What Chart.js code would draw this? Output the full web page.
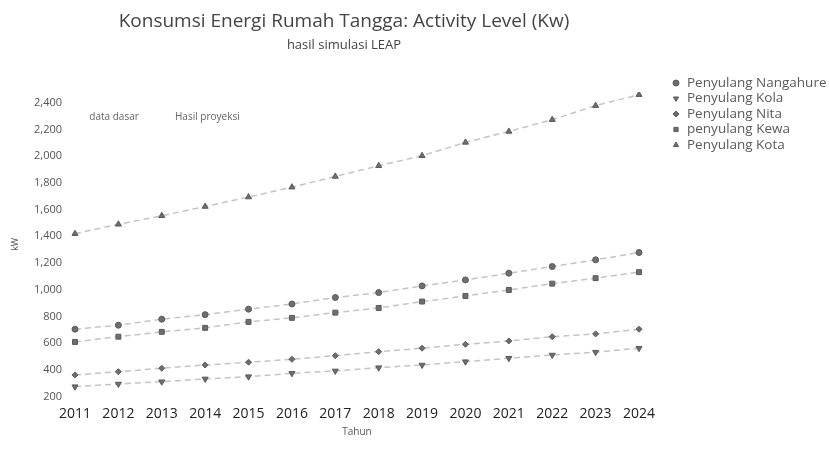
<!DOCTYPE html>
<html>
<head>
<meta charset="utf-8">
<script src="https://cdn.jsdelivr.net/npm/chart.js@4/dist/chart.umd.min.js"></script>
<style>
  html, body { margin: 0; padding: 0; background: #fff; }
  canvas { display: block; }
</style>
</head>
<body>
<canvas id="c" width="830" height="462"></canvas>
<script>
// Tahun (kategori sumbu X)
const years = ['2011','2012','2013','2014','2015','2016','2017','2018','2019','2020','2021','2022','2023','2024'];

// Activity level per penyulang (kW)
const nangahure = [705, 735, 780, 814, 855, 894, 942, 979, 1029, 1074, 1124, 1174, 1224, 1279];
const kola      = [275, 295, 312, 333, 350, 375, 393, 417, 437, 462, 488, 512, 533, 563];
const nita      = [363, 387, 413, 437, 458, 480, 507, 537, 563, 592, 617, 649, 670, 705];
const kewa      = [610, 649, 685, 715, 760, 790, 829, 864, 912, 954, 999, 1046, 1087, 1132];
const kota      = [1420, 1490, 1554, 1623, 1694, 1768, 1848, 1928, 2003, 2103, 2185, 2273, 2378, 2460];

const seriesNames = ['Penyulang Nangahure', 'Penyulang Kola', 'Penyulang Nita', 'penyulang Kewa', 'Penyulang Kota'];

// Label sumbu Y
const yTicks = [200, 400, 600, 800, 1000, 1200, 1400, 1600, 1800, 2000, 2200, 2400];

// Catatan di area grafik
const notes = ['data dasar', 'Hasil proyeksi'];

const FONT = '"Open Sans", "Noto Sans", sans-serif';

function series(label, data, pointStyle, rotation, radius) {
  return {
    label,
    data,
    borderColor: '#c4c4c4',
    borderWidth: 1.5,
    borderDash: [6, 4],
    pointStyle,
    pointRotation: rotation,
    pointRadius: radius,
    pointHoverRadius: radius,
    pointBackgroundColor: '#6e6e6e',
    pointBorderColor: '#5a5a5a',
    pointBorderWidth: 1,
    tension: 0,
    fill: false
  };
}

// Legenda di sisi kanan, digambar dari dataset
const sideLegend = {
  id: 'sideLegend',
  afterDraw(chart) {
    const { ctx, chartArea } = chart;
    const x0 = chartArea.right + 37;
    const y0 = chartArea.top - 9;
    ctx.save();
    ctx.font = '13.5px ' + FONT;
    ctx.textBaseline = 'middle';
    ctx.textAlign = 'left';
    chart.data.datasets.forEach((ds, i) => {
      const y = y0 + i * 15.5;
      ctx.fillStyle = ds.pointBackgroundColor;
      ctx.strokeStyle = ds.pointBorderColor;
      ctx.lineWidth = 1;
      Chart.helpers.drawPoint(ctx, {
        pointStyle: ds.pointStyle,
        rotation: ds.pointRotation || 0,
        radius: 3,
        borderWidth: 1
      }, x0, y);
      ctx.fillStyle = '#5a5a5a';
      ctx.fillText(ds.label, x0 + 11, y);
    });
    ctx.restore();
  }
};

// Teks "data dasar" / "Hasil proyeksi" diletakkan lewat skala
const noteLabels = {
  id: 'noteLabels',
  afterDraw(chart) {
    const { ctx } = chart;
    const xs = chart.scales.x, ys = chart.scales.y;
    const at = [0.9, 3.05];
    ctx.save();
    ctx.font = '10px ' + FONT;
    ctx.fillStyle = '#666';
    ctx.textAlign = 'center';
    ctx.textBaseline = 'middle';
    notes.forEach((t, i) => {
      ctx.fillText(t, xs.getPixelForValue(at[i]), ys.getPixelForValue(2290));
    });
    ctx.restore();
  }
};

new Chart(document.getElementById('c'), {
  type: 'line',
  data: {
    labels: years,
    datasets: [
      series(seriesNames[0], nangahure, 'circle', 0, 3),
      series(seriesNames[1], kola, 'triangle', 180, 3.5),
      series(seriesNames[2], nita, 'rectRot', 0, 3),
      series(seriesNames[3], kewa, 'rect', 0, 3.5),
      series(seriesNames[4], kota, 'triangle', 0, 3.5)
    ]
  },
  options: {
    responsive: false,
    animation: false,
    layout: { padding: { left: 0, right: 142, top: 0, bottom: 0 } },
    plugins: {
      legend: { display: false },
      tooltip: { enabled: false },
      title: {
        display: true,
        text: 'Konsumsi Energi Rumah Tangga: Activity Level (Kw)',
        color: '#444',
        font: { family: FONT, size: 19, weight: 'normal', lineHeight: 1.2 },
        padding: { top: 10.5, bottom: 0 }
      },
      subtitle: {
        display: true,
        text: 'hasil simulasi LEAP',
        color: '#444',
        font: { family: FONT, size: 13, weight: 'normal', lineHeight: 1.2 },
        padding: { top: 3.9, bottom: 39.2 }
      }
    },
    scales: {
      x: {
        grid: { display: false, drawTicks: false },
        border: { display: false },
        ticks: {
          color: '#222',
          font: { family: FONT, size: 14 },
          padding: 8.5,
          maxRotation: 0,
          autoSkip: false
        },
        title: {
          display: true,
          text: 'Tahun',
          color: '#555',
          font: { family: FONT, size: 10 },
          padding: { top: 0, bottom: 24 }
        },
        afterFit: s => { s.height = 65.3; }
      },
      y: {
        min: 200,
        max: 2480,
        grid: { display: false, drawTicks: false },
        border: { display: false },
        afterBuildTicks: s => { s.ticks = yTicks.map(v => ({ value: v })); },
        ticks: {
          color: '#555',
          font: { family: FONT, size: 11 },
          padding: 13,
          callback: v => v.toLocaleString('en-US')
        },
        title: {
          display: true,
          text: 'kW',
          color: '#555',
          font: { family: FONT, size: 9 },
          padding: { top: 10, bottom: 4 }
        },
        afterFit: s => { s.width = 75; }
      },
      yRight: {
        position: 'right',
        display: true,
        grid: { display: false, drawTicks: false },
        border: { display: false },
        ticks: { display: false },
        afterFit: s => { s.width = 49; }
      }
    }
  },
  plugins: [sideLegend, noteLabels]
});
</script>
</body>
</html>
